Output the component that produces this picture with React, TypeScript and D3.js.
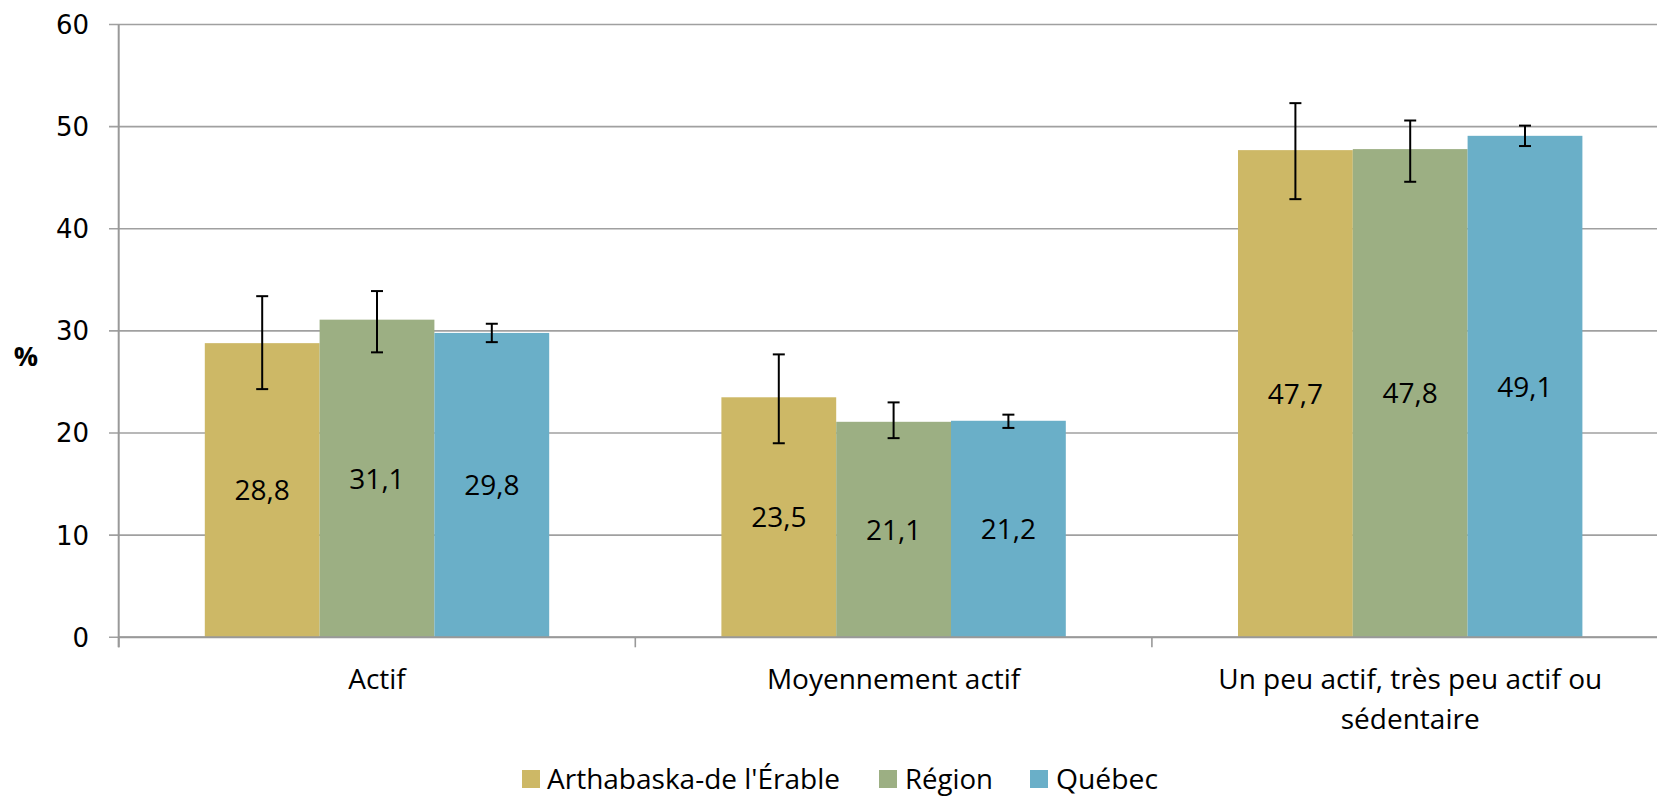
import * as d3 from "d3";

const categories = ["Actif", "Moyennement actif", "Un peu actif, très peu actif ou sédentaire"];
const seriesNames = ["Arthabaska-de l'Érable", "Région", "Québec"];
const seriesColors = ["#CDB866", "#9CAF83", "#6AAFC8"];

// values per series, one per category
const arthabaska = [28.8, 23.5, 47.7];
const region = [31.1, 21.1, 47.8];
const quebec = [29.8, 21.2, 49.1];

// confidence intervals [low, high]
const arthabaskaErr = [[24.3, 33.4], [19.0, 27.7], [42.9, 52.3]];
const regionErr = [[27.9, 33.9], [19.5, 23.0], [44.6, 50.6]];
const quebecErr = [[28.9, 30.7], [20.5, 21.8], [48.1, 50.1]];

const yTicks = [0, 10, 20, 30, 40, 50, 60];

const W = 1657;
const H = 796;
const left = 118.7;
const top = 24.5;
const bottom = 637.3;
const catWidth = 516.6;

const FONT = "'Open Sans', sans-serif";

function wrap(label: string, maxChars: number) {
  const words = label.split(" ");
  const lines: string[] = [];
  let cur = "";
  words.forEach((w) => {
    const next = cur ? cur + " " + w : w;
    if (next.length > maxChars && cur) {
      lines.push(cur);
      cur = w;
    } else cur = next;
  });
  if (cur) lines.push(cur);
  return lines;
}

export default function App() {
  const values = [arthabaska, region, quebec];
  const errs = [arthabaskaErr, regionErr, quebecErr];

  const x = d3
    .scaleBand<string>()
    .domain(categories)
    .range([left, left + catWidth * categories.length])
    .padding(0);
  const xs = d3
    .scaleBand<string>()
    .domain(seriesNames)
    .range([catWidth / 6, (catWidth * 5) / 6])
    .padding(0);
  const y = d3.scaleLinear().domain([0, 60]).range([bottom, top]);

  // legend layout (Calibri-like widths)
  const legendItems = [
    { sq: 522, tx: 547, w: 293 },
    { sq: 879, tx: 905, w: 88 },
    { sq: 1030, tx: 1056, w: 102 },
  ];

  return (
    <svg
      width={W}
      height={H}
      style={{ position: "absolute", left: 0, top: 0, background: "#fff" }}
      fontFamily={FONT}
    >
      {/* grid + y ticks */}
      {yTicks.map((t) => (
        <g key={t}>
          <line x1={109} x2={W + 20} y1={y(t)} y2={y(t)} stroke="#A0A0A0" strokeWidth={1.6} />
          <text
            x={89}
            y={y(t)}
            dy="0.36em"
            textAnchor="end"
            fontSize={26}
            fontFamily="'DejaVu Sans', sans-serif"
            fill="#000"
          >
            {t}
          </text>
        </g>
      ))}
      <line x1={left} x2={left} y1={top} y2={bottom + 10} stroke="#999" strokeWidth={2} />
      {categories.map((c, i) => (
        <line
          key={"tk" + i}
          x1={x(c) as number}
          x2={x(c) as number}
          y1={bottom}
          y2={bottom + 10}
          stroke="#999"
          strokeWidth={1.6}
        />
      ))}

      {/* bars */}
      {categories.map((c, ci) => (
        <g key={c} transform={`translate(${x(c)},0)`}>
          {seriesNames.map((s, si) => {
            const v = values[si][ci];
            return (
              <rect
                key={s}
                x={xs(s) as number}
                y={y(v)}
                width={xs.bandwidth()}
                height={bottom - y(v)}
                fill={seriesColors[si]}
              />
            );
          })}
          {seriesNames.map((s, si) => {
            const [lo, hi] = errs[si][ci];
            const cx = (xs(s) as number) + xs.bandwidth() / 2;
            return (
              <g key={"e" + s} stroke="#000" strokeWidth={2}>
                <line x1={cx} x2={cx} y1={y(lo)} y2={y(hi)} />
                <line x1={cx - 6} x2={cx + 6} y1={y(lo)} y2={y(lo)} />
                <line x1={cx - 6} x2={cx + 6} y1={y(hi)} y2={y(hi)} />
              </g>
            );
          })}
          {seriesNames.map((s, si) => {
            const v = values[si][ci];
            const cx = (xs(s) as number) + xs.bandwidth() / 2;
            return (
              <text
                key={"l" + s}
                x={cx}
                y={(y(v) + bottom) / 2}
                dy="0.36em"
                textAnchor="middle"
                fontSize={28}
                fill="#000"
              >
                {v.toFixed(1).replace(".", ",")}
              </text>
            );
          })}
        </g>
      ))}
      <line x1={left} x2={W + 20} y1={bottom} y2={bottom} stroke="#999" strokeWidth={2} />

      {/* category labels */}
      {categories.map((c) => {
        const lines = wrap(c, 32);
        const cx = (x(c) as number) + catWidth / 2;
        return (
          <text key={"c" + c} x={cx} textAnchor="middle" fontSize={28} fill="#000">
            {lines.map((l, li) => (
              <tspan key={li} x={cx} y={689 + li * 40}>
                {l}
              </tspan>
            ))}
          </text>
        );
      })}

      {/* y title */}
      <text x={26} y={366} textAnchor="middle" fontSize={27} fontWeight="bold" fill="#000">
        %
      </text>

      {/* legend */}
      {seriesNames.map((s, i) => (
        <g key={"lg" + s}>
          <rect x={legendItems[i].sq} y={770} width={18} height={18} fill={seriesColors[i]} />
          <text
            x={legendItems[i].tx}
            y={789}
            fontSize={28}
            textLength={legendItems[i].w}
            lengthAdjust="spacingAndGlyphs"
            fill="#000"
          >
            {s}
          </text>
        </g>
      ))}
    </svg>
  );
}
